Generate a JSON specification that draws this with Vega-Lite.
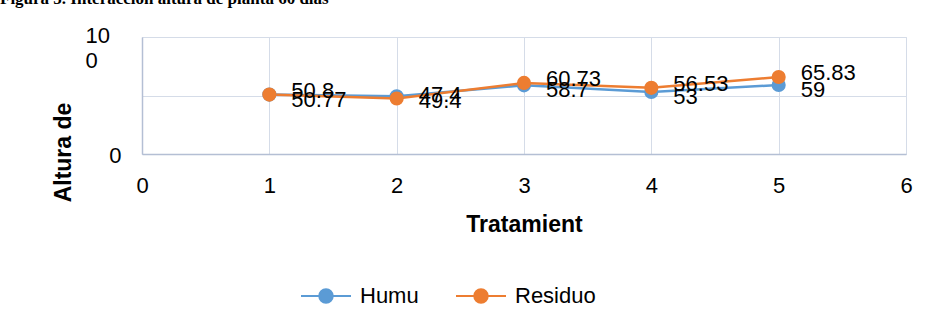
{
  "$schema": "https://vega.github.io/schema/vega-lite/v6.json",
  "width": 764,
  "height": 117,
  "autosize": {"type": "none"},
  "padding": {"left": 142, "top": 37, "right": 25, "bottom": 170},
  "background": "white",
  "title": {
    "text": "Figura 5. Interacción altura de planta 60 días",
    "anchor": "start",
    "frame": "group",
    "orient": "top",
    "offset": 0,
    "dx": -142,
    "dy": -3,
    "baseline": "alphabetic",
    "font": "Liberation Serif",
    "fontSize": 17,
    "fontWeight": "bold",
    "color": "#000000"
  },
  "data": {
    "values": [
      {"tratamiento": 1, "serie": "Humu", "altura": 50.77},
      {"tratamiento": 2, "serie": "Humu", "altura": 49.4},
      {"tratamiento": 3, "serie": "Humu", "altura": 58.7},
      {"tratamiento": 4, "serie": "Humu", "altura": 53},
      {"tratamiento": 5, "serie": "Humu", "altura": 59},
      {"tratamiento": 1, "serie": "Residuo", "altura": 50.8},
      {"tratamiento": 2, "serie": "Residuo", "altura": 47.4},
      {"tratamiento": 3, "serie": "Residuo", "altura": 60.73},
      {"tratamiento": 4, "serie": "Residuo", "altura": 56.53},
      {"tratamiento": 5, "serie": "Residuo", "altura": 65.83}
    ]
  },
  "encoding": {
    "x": {
      "field": "tratamiento",
      "type": "quantitative",
      "scale": {"domain": [0, 6], "nice": false, "zero": false},
      "axis": {
        "values": [0, 1, 2, 3, 4, 5, 6],
        "format": "d",
        "title": "Tratamient",
        "grid": true,
        "gridColor": "#D5DCE8",
        "gridWidth": 1,
        "domainColor": "#B4BFD4",
        "domainWidth": 1.5,
        "ticks": false,
        "labelFont": "Liberation Sans",
        "labelFontSize": 22,
        "labelColor": "#000000",
        "labelPadding": 21,
        "labelFlush": false,
        "labelOverlap": false,
        "labelBound": false,
        "titleFont": "Liberation Sans",
        "titleFontSize": 23,
        "titleFontWeight": "bold",
        "titleColor": "#000000",
        "titleBaseline": "alphabetic",
        "titleY": 77
      }
    },
    "y": {
      "field": "altura",
      "type": "quantitative",
      "scale": {"domain": [0, 100], "nice": false},
      "axis": {
        "values": [0, 50, 100],
        "title": "Altura de",
        "grid": true,
        "gridColor": "#D5DCE8",
        "gridWidth": 1,
        "domainColor": "#B4BFD4",
        "domainWidth": 1.5,
        "ticks": false,
        "labelExpr": "datum.value == 100 ? ['10', '0'] : datum.value == 0 ? '0' : ''",
        "labelAlign": {"condition": {"test": "datum.value == 100", "value": "left"}, "value": "right"},
        "labelBaseline": {"condition": {"test": "datum.value == 100", "value": "top"}, "value": "middle"},
        "labelOffset": {"condition": {"test": "datum.value == 100", "value": -12}, "value": 1},
        "labelPadding": {"condition": {"test": "datum.value == 100", "value": 57}, "value": 21},
        "labelLineHeight": 25,
        "labelFont": "Liberation Sans",
        "labelFontSize": 22,
        "labelColor": "#000000",
        "labelFlush": false,
        "labelOverlap": false,
        "labelBound": false,
        "titleFont": "Liberation Sans",
        "titleFontSize": 23,
        "titleFontWeight": "bold",
        "titleColor": "#000000",
        "titleAngle": 270,
        "titleAlign": "center",
        "titleBaseline": "alphabetic",
        "titleX": -72,
        "titleY": 115
      }
    }
  },
  "layer": [
    {
      "mark": {
        "type": "line",
        "strokeWidth": 2.5,
        "point": {"filled": true, "size": 200, "opacity": 1}
      },
      "encoding": {
        "color": {
          "field": "serie",
          "type": "nominal",
          "scale": {"domain": ["Humu", "Residuo"], "range": ["#5B9BD5", "#ED7D31"]},
          "legend": {
            "title": null,
            "orient": "none",
            "direction": "horizontal",
            "legendX": 158,
            "legendY": 233,
            "padding": 0,
            "symbolType": "M-1,0H1M0.27,0A0.27,0.27,0,1,1,-0.27,0A0.27,0.27,0,1,1,0.27,0Z",
            "symbolSize": 2500,
            "symbolStrokeWidth": 2,
            "symbolOpacity": 1,
            "labelFont": "Liberation Sans",
            "labelFontSize": 22,
            "labelColor": "#000000",
            "labelOffset": 8,
            "columnPadding": 33,
            "encode": {
              "symbols": {
                "update": {
                  "fill": {"scale": "color", "field": "value"},
                  "stroke": {"scale": "color", "field": "value"}
                }
              }
            }
          }
        }
      }
    },
    {
      "transform": [{"filter": "datum.serie == 'Humu'"}],
      "mark": {
        "type": "text",
        "align": "left",
        "baseline": "middle",
        "dx": 22,
        "dy": 5,
        "font": "Liberation Sans",
        "fontSize": 22,
        "color": "#000000"
      },
      "encoding": {"text": {"field": "altura", "type": "quantitative"}}
    },
    {
      "transform": [{"filter": "datum.serie == 'Residuo'"}],
      "mark": {
        "type": "text",
        "align": "left",
        "baseline": "middle",
        "dx": 22,
        "dy": -4,
        "font": "Liberation Sans",
        "fontSize": 22,
        "color": "#000000"
      },
      "encoding": {"text": {"field": "altura", "type": "quantitative"}}
    }
  ]
}
